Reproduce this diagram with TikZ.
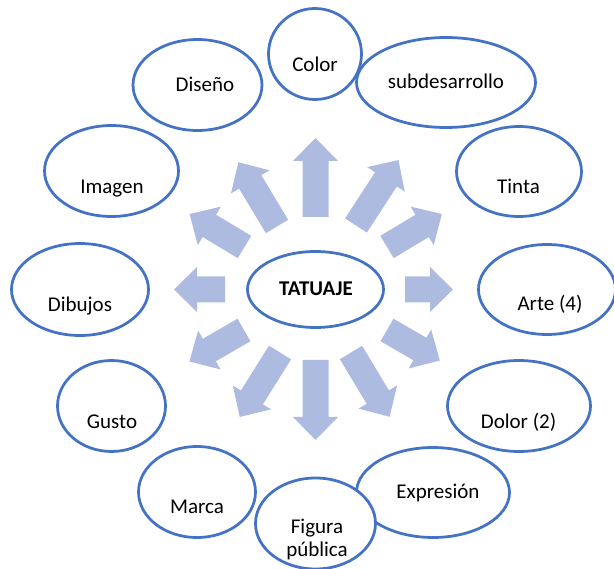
\documentclass[tikz,border=0pt]{standalone}
\usepackage{fontspec}
\setmainfont{Carlito}
\usepackage{xcolor}
\usetikzlibrary{shapes.geometric}
\definecolor{ringblue}{HTML}{4472C4}
\definecolor{arrowblue}{RGB}{174,187,224}

\begin{document}
\begin{tikzpicture}[x=1pt, y=-1pt]
    \tikzstyle{idea} = [ellipse, draw=ringblue, line width=2.75pt, fill=white, inner sep=0pt]
    \tikzstyle{word} = [font=\fontsize{21}{23}\selectfont, text height=14pt, text depth=0pt, inner sep=0pt, align=center]
    \useasboundingbox (0,0) rectangle (614,569);
    % arrows going out: angle / base x / base y / length
    \foreach \a/\bx/\by/\l in {90/315.5/217/79, 57/356/225.5/78, 31/387/247/64,
        0/405/289.5/48, -30/387/330/61, -59/351/352.5/75, -90/315.5/360/80,
        -122/280/352.5/76, -150/244/330/63, 180/225/289.5/51,
        149/244.5/247/64, 121/277/226.5/75}
    {
        \begin{scope}[shift={(\bx,\by)}, rotate=\a]
            \fill[arrowblue] (0,-13) -- ({\l-23},-13) -- ({\l-23},-22.5) -- (\l,0)
                -- ({\l-23},22.5) -- ({\l-23},13) -- (0,13) -- cycle;
        \end{scope}
    }
    \node [idea, minimum width=136pt, minimum height=76pt] (tat) at (315.5,289.5) {};
    \node [word] (tatT) at (316,289) {\textbf{TATUAJE}};
    \node [idea, minimum width=93pt, minimum height=91pt] (color) at (315,54) {};
    \node [word] (colorT) at (315,65) {Color};
    \node [idea, minimum width=179pt, minimum height=90pt] (subd) at (446,82.5) {};
    \node [word] (subdT) at (446,82) {subdesarrollo};
    \node [idea, minimum width=125pt, minimum height=90pt] (tinta) at (519,171.5) {};
    \node [word] (tintaT) at (518.5,187) {Tinta};
    \node [idea, minimum width=137pt, minimum height=90pt] (arte) at (547,289.5) {};
    \node [word] (arteT) at (550,304) {Arte (4)};
    \node [idea, minimum width=143pt, minimum height=91pt] (dolor) at (519,406) {};
    \node [word] (dolorT) at (518.5,422) {Dolor (2)};
    \node [idea, minimum width=153pt, minimum height=90pt] (expr) at (433,492.5) {};
    \node [word] (exprT) at (438,492) {Expresión};
    \node [idea, minimum width=117pt, minimum height=91pt] (marca) at (197,492) {};
    \node [word] (marcaT) at (197,507) {Marca};
    \node [idea, minimum width=120pt, minimum height=91pt] (figura) at (315.5,523.5) {};
    \node [word, text height=, text depth=] (figuraT) at (317,539) {Figura\\pública};
    \node [idea, minimum width=108pt, minimum height=91pt] (gusto) at (111.5,406) {};
    \node [word] (gustoT) at (112,422) {Gusto};
    \node [idea, minimum width=137pt, minimum height=92pt] (dibujos) at (80,289.5) {};
    \node [word] (dibujosT) at (80,305) {Dibujos};
    \node [idea, minimum width=134pt, minimum height=91pt] (imagen) at (111.5,171) {};
    \node [word] (imagenT) at (112,187) {Imagen};
    \node [idea, minimum width=129pt, minimum height=91pt] (diseno) at (197.5,85) {};
    \node [word] (disenoT) at (205,85) {Diseño};
\end{tikzpicture}
\end{document}
